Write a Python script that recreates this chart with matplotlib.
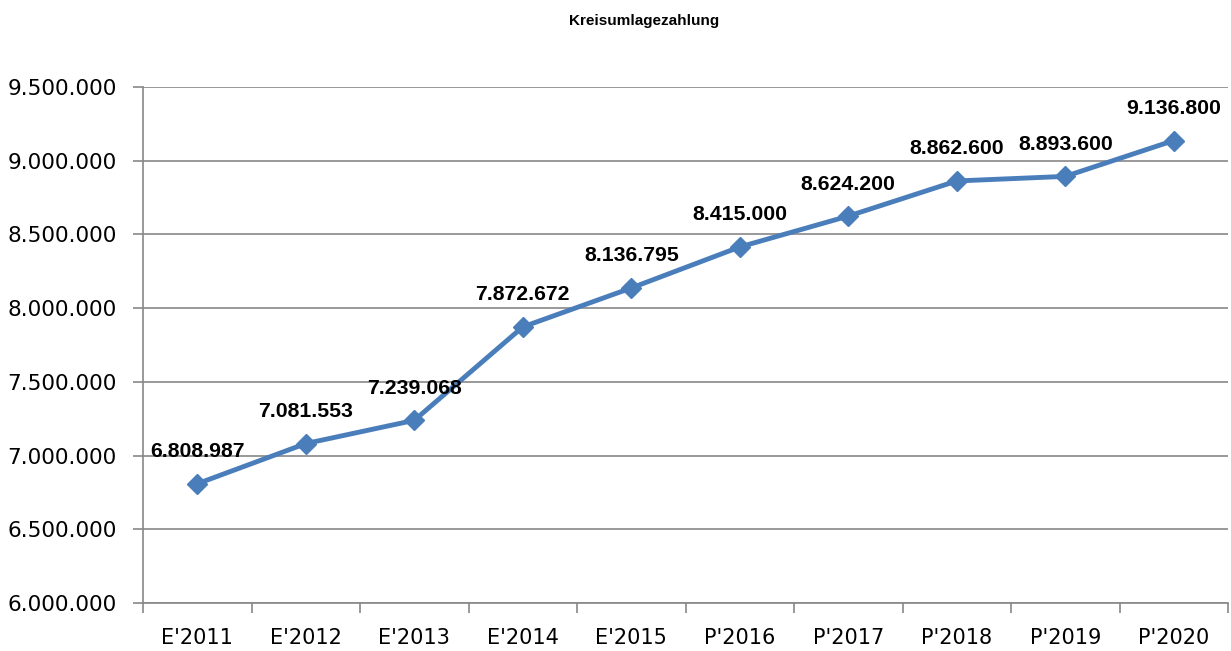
import numpy as np
import matplotlib.pyplot as plt
from matplotlib.ticker import FuncFormatter

# Kreisumlage je Jahr (E = Ergebnis, P = Plan)
jahre = ["E'2011", "E'2012", "E'2013", "E'2014", "E'2015",
         "P'2016", "P'2017", "P'2018", "P'2019", "P'2020"]
werte = [6808987, 7081553, 7239068, 7872672, 8136795,
         8415000, 8624200, 8862600, 8893600, 9136800]

LINE_COLOR = "#4A7EBB"
GRID_COLOR = "#878787"


def punkte(v, pos=None):
    return f"{int(v):,}".replace(",", ".")


fig = plt.figure(figsize=(12.31, 6.51), dpi=100)
ax = fig.add_axes([0.1162, 0.0737, 0.8814, 0.7927])

x = np.arange(len(jahre))
ax.plot(x, werte, color=LINE_COLOR, lw=3.5, marker="D", markersize=10,
        zorder=3, clip_on=False)

for xi, v in zip(x, werte):
    ax.annotate(punkte(v), (xi, v), xytext=(0, 32), textcoords="offset pixels",
                ha="center", va="center", fontsize=15.3, fontweight="bold",
                family="Liberation Sans", zorder=4)

ax.set_ylim(6000000, 9500000)
ax.set_yticks(np.arange(6000000, 9500001, 500000))
ax.yaxis.set_major_formatter(FuncFormatter(punkte))
ax.set_xlim(-0.5, len(jahre) - 0.5)
ax.set_xticks(x)
ax.set_xticklabels(jahre)
ax.set_xticks(np.arange(-0.5, len(jahre)), minor=True)

ax.grid(axis="y", color=GRID_COLOR, lw=1.2, zorder=0)
ax.set_axisbelow(True)
for s in ["top", "right"]:
    ax.spines[s].set_visible(False)
for s in ["left", "bottom"]:
    ax.spines[s].set_color(GRID_COLOR)
    ax.spines[s].set_linewidth(1.2)

ax.tick_params(axis="y", length=7, width=1.2, color=GRID_COLOR, pad=12,
               labelsize=15.5)
ax.tick_params(axis="x", which="major", length=0, pad=18, labelsize=15)
ax.tick_params(axis="x", which="minor", length=7, width=1.2, color=GRID_COLOR)

fig.text(0.523, 0.968, "Kreisumlagezahlung", ha="center", va="center",
         fontsize=11, fontweight="bold", family="Liberation Sans")

fig.savefig("out.png", dpi=100)
